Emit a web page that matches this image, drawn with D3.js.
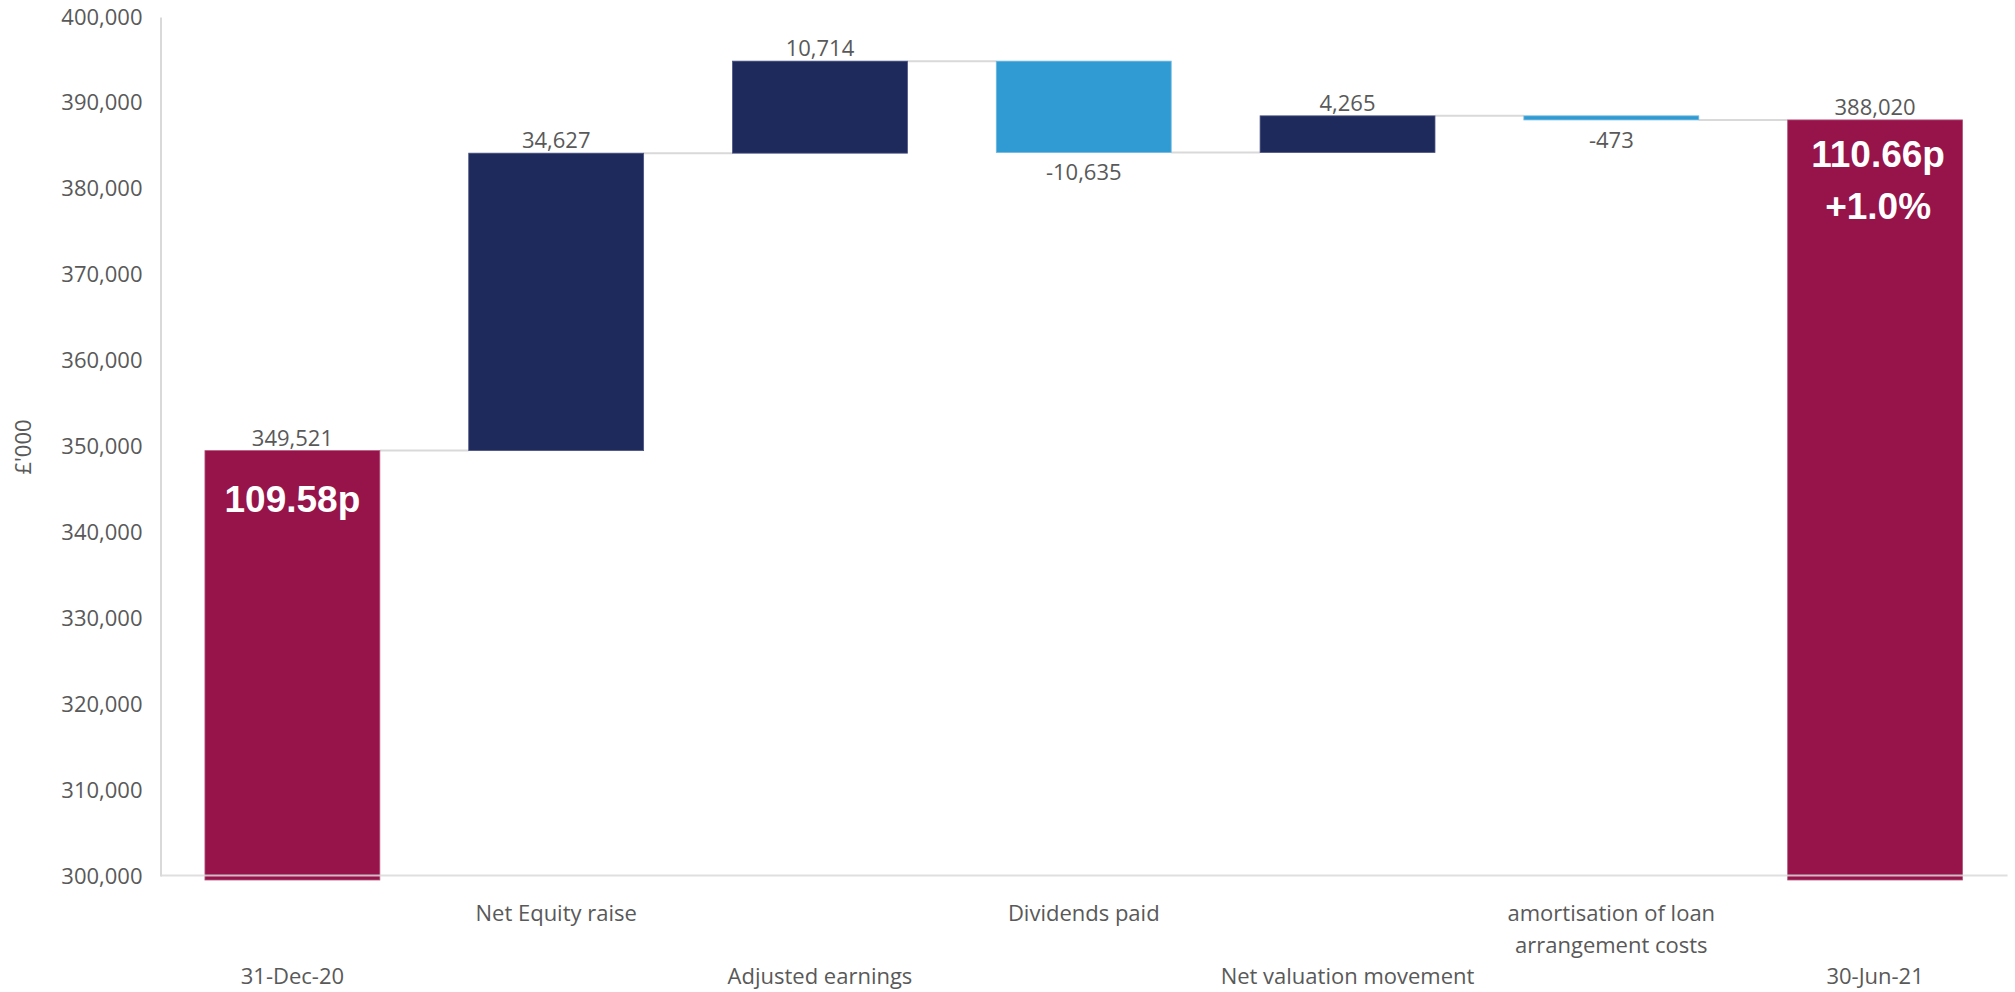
<!DOCTYPE html>
<html>
<head>
<meta charset="utf-8">
<script src="https://cdn.jsdelivr.net/npm/d3@7"></script>
<style>
  html, body { margin: 0; padding: 0; background: #ffffff; }
  svg { display: block; }
  text { font-family: "Open Sans", "Noto Sans", sans-serif; }
</style>
</head>
<body>
<svg id="chart" width="2015" height="992"></svg>
<script>
// NAV bridge, £'000
const categories = ["31-Dec-20", "Net Equity raise", "Adjusted earnings", "Dividends paid",
                    "Net valuation movement", "amortisation of loan arrangement costs", "30-Jun-21"];
const categoryLines = [["31-Dec-20"], ["Net Equity raise"], ["Adjusted earnings"], ["Dividends paid"],
                       ["Net valuation movement"], ["amortisation of loan", "arrangement costs"], ["30-Jun-21"]];
const amounts = [349521, 34627, 10714, -10635, 4265, -473, 388020];
const isTotal = [true, false, false, false, false, false, true];
const valueLabels = ["349,521", "34,627", "10,714", "-10,635", "4,265", "-473", "388,020"];
const navPerShare = [["109.58p"], null, null, null, null, null, ["110.66p", "+1.0%"]];
const yTicks = [300000, 310000, 320000, 330000, 340000, 350000, 360000, 370000, 380000, 390000, 400000];
const yDomain = [300000, 400000];
const yTitle = "£'000";

const colors = { total: "#96144a", up: "#1f2a5c", down: "#309bd2", grid: "#d9d9d9", text: "#595959" };

// running totals for the waterfall
let running = 0;
const bars = categories.map((c, i) => {
  let start, end;
  if (isTotal[i]) { start = yDomain[0]; end = amounts[i]; running = amounts[i]; }
  else { start = running; end = running + amounts[i]; running = end; }
  return { cat: c, i, start, end, total: isTotal[i], value: amounts[i] };
});

const svg = d3.select("#chart");
const plotLeft = 160.5, plotRight = 2007, plotTop = 17, plotBottom = 876;

const x = d3.scaleBand().domain(categories).range([plotLeft, plotRight]).paddingInner(0.337).paddingOuter(0.1685);
const y = d3.scaleLinear().domain(yDomain).range([plotBottom, plotTop]);

// connector lines between consecutive bars
const conn = svg.append("g");
bars.slice(0, -1).forEach((b, i) => {
  const nx = bars[i + 1];
  conn.append("line")
    .attr("x1", x(b.cat) + x.bandwidth()).attr("x2", x(nx.cat))
    .attr("y1", y(b.end)).attr("y2", y(b.end))
    .attr("stroke", colors.grid).attr("stroke-width", 2);
});

// bars
svg.append("g").selectAll("rect").data(bars).join("rect")
  .attr("x", d => x(d.cat))
  .attr("width", x.bandwidth())
  .attr("y", d => y(Math.max(d.start, d.end)))
  .attr("height", d => Math.abs(y(d.start) - y(d.end)) + (d.total ? 4 : 0))
  .attr("fill", d => d.total ? colors.total : (d.value >= 0 ? colors.up : colors.down))
  .attr("stroke", d => d.total ? "#b4557c" : (d.value >= 0 ? "#4a5382" : "#6fb8e0"))
  .attr("stroke-width", 0.8);

// y axis
const yAxis = svg.append("g").attr("transform", `translate(${plotLeft},0)`)
  .call(d3.axisLeft(y).tickValues(yTicks).tickSize(0).tickPadding(18).tickFormat(d3.format(",")));
yAxis.select(".domain").attr("stroke", colors.grid).attr("stroke-width", 2);
yAxis.selectAll("text").attr("fill", colors.text).style("font-size", "22px")
  .style("font-family", "'Open Sans', sans-serif");

// x axis line
const xAxis = svg.append("g").attr("transform", `translate(0,${plotBottom - 1})`)
  .call(d3.axisBottom(x).tickSize(0).tickSizeOuter(0).tickFormat(""));
xAxis.select(".domain").attr("stroke", colors.grid).attr("stroke-width", 2).attr("stroke-opacity", 0.85);

// category labels, staggered over two rows
const catG = svg.append("g");
bars.forEach((b, i) => {
  const cx = x(b.cat) + x.bandwidth() / 2;
  const y0 = (i % 2 === 1) ? 912 : 975;
  const t = catG.append("text").attr("x", cx).attr("y", y0)
    .attr("text-anchor", "middle").attr("dominant-baseline", "central")
    .attr("fill", colors.text).style("font-size", "22px");
  categoryLines[i].forEach((ln, k) => {
    t.append("tspan").attr("x", cx).attr("dy", k === 0 ? 0 : 32).text(ln);
  });
});

// value labels
svg.append("g").selectAll("text").data(bars).join("text")
  .attr("x", d => x(d.cat) + x.bandwidth() / 2)
  .attr("y", d => d.value >= 0 ? y(d.end) - 14 : y(d.end) + 19)
  .attr("text-anchor", "middle").attr("dominant-baseline", "central")
  .attr("fill", colors.text).style("font-size", "22px")
  .text((d, i) => valueLabels[i]);

// NAV per share annotations inside the total bars
const navOffset = [61, null, null, null, null, null, 47];
bars.forEach((b, i) => {
  if (!navPerShare[i]) return;
  const cx = x(b.cat) + x.bandwidth() / 2;
  navPerShare[i].forEach((ln, k) => {
    svg.append("text").attr("x", cx + (i === 6 ? 3 : 0))
      .attr("y", y(b.end) + navOffset[i] + k * 52)
      .attr("text-anchor", "middle")
      .attr("fill", "#ffffff")
      .style("font-family", "'Liberation Sans', Arial, sans-serif")
      .style("font-weight", "bold").style("font-size", "37px")
      .text(ln);
  });
});

// y axis title
svg.append("text")
  .attr("transform", "translate(22,447) rotate(-90)")
  .attr("text-anchor", "middle").attr("dominant-baseline", "central")
  .attr("fill", colors.text).style("font-size", "22px")
  .text(yTitle);
</script>
</body>
</html>
